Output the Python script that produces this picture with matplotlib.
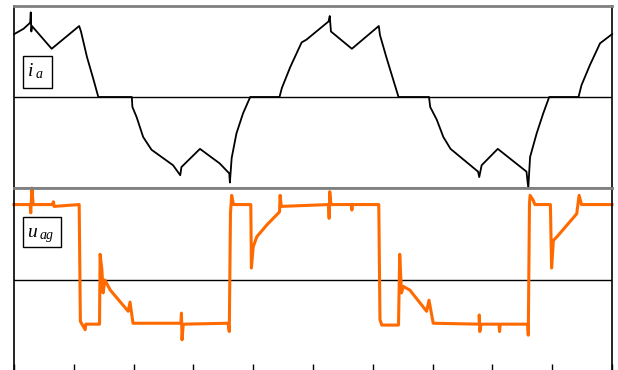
#------------------------------------------------
# Phase current i_a and phase voltage u_ag
#------------------------------------------------
import matplotlib.pyplot as plt
from matplotlib.patches import Rectangle

# time axis in divisions (10 divisions across the screen)
t_ia = [0.00, 0.16, 0.26, 0.27, 0.28, 0.29, 0.30, 0.63, 1.09, 1.12, 1.22, 1.33,
        1.41, 1.97, 1.98, 2.05, 2.16, 2.30, 2.66, 2.78, 2.80, 3.11, 3.44, 3.60,
        3.61, 3.64, 3.72, 3.83, 3.95, 4.44, 4.48, 4.62, 4.81, 4.89, 5.26, 5.28,
        5.30, 5.65, 6.10, 6.12, 6.23, 6.43, 6.94, 6.96, 7.07, 7.18, 7.30, 7.76,
        7.78, 7.82, 8.09, 8.57, 8.60, 8.63, 8.74, 8.85, 8.95, 9.44, 9.49, 9.63,
        9.80, 10.00]
ia = [0.69, 0.75, 0.81, 0.81, 0.93, 0.72, 0.78, 0.53, 0.78, 0.72, 0.44, 0.19,
      0.00, 0.00, -0.11, -0.22, -0.44, -0.58, -0.75, -0.86, -0.77, -0.57, -0.73, -0.84,
      -0.94, -0.67, -0.40, -0.18, 0.00, 0.00, 0.10, 0.33, 0.60, 0.63, 0.83, 0.89,
      0.72, 0.53, 0.78, 0.68, 0.43, 0.00, 0.00, -0.11, -0.25, -0.44, -0.57, -0.82,
      -0.88, -0.75, -0.57, -0.82, -1.00, -0.66, -0.40, -0.18, 0.00, 0.00, 0.13, 0.35,
      0.59, 0.69]

t_uag = [0.00, 0.27, 0.28, 0.30, 0.32, 0.64, 0.66, 0.67, 1.09, 1.11, 1.19, 1.20,
         1.43, 1.44, 1.47, 1.49, 1.52, 1.61, 1.91, 1.94, 1.99, 2.79, 2.80, 2.81,
         2.83, 3.58, 3.60, 3.62, 3.64, 3.67, 3.96, 3.97, 4.00, 4.06, 4.23, 4.44,
         4.45, 4.47, 5.26, 5.27, 5.28, 5.30, 5.64, 5.65, 5.66, 6.10, 6.12, 6.15,
         6.43, 6.45, 6.48, 6.51, 6.62, 6.90, 6.94, 7.01, 7.78, 7.78, 7.79, 7.81,
         8.11, 8.12, 8.13, 8.59, 8.60, 8.62, 8.63, 8.68, 8.71, 8.97, 8.99, 9.02,
         9.08, 9.41, 9.45, 9.49, 10.00]
uag = [0.82, 0.82, 0.73, 1.00, 0.82, 0.82, 0.85, 0.80, 0.82, -0.45, -0.54, -0.48,
       -0.48, 0.28, 0.11, -0.14, 0.00, -0.11, -0.34, -0.24, -0.47, -0.47, -0.36, -0.65,
       -0.48, -0.47, -0.56, 0.73, 0.92, 0.82, 0.82, 0.13, 0.36, 0.47, 0.60, 0.74,
       0.92, 0.80, 0.82, 0.67, 0.96, 0.82, 0.82, 0.76, 0.82, 0.82, -0.43, -0.49,
       -0.49, 0.28, -0.14, -0.07, -0.11, -0.34, -0.22, -0.47, -0.48, -0.38, -0.56, -0.48,
       -0.48, -0.56, -0.48, -0.48, -0.60, 0.83, 0.92, 0.87, 0.82, 0.82, 0.13, 0.43,
       0.47, 0.72, 0.92, 0.82, 0.82]

ticks = [0, 1, 2, 3, 4, 5, 6, 7, 8, 9, 10]

W, H = 618, 370
fig = plt.figure(figsize=(W / 100, H / 100), dpi=100)
ax1 = fig.add_axes([14 / W, (H - 188) / H, 598 / W, 182 / H])
ax2 = fig.add_axes([14 / W, (H - 372) / H, 598 / W, 184 / H])

for ax in (ax1, ax2):
    ax.set_xlim(0, 10)
    ax.set_ylim(-1, 1)
    ax.axhline(0, color='black', lw=1.0)
    ax.set_yticks([])
    ax.spines['left'].set_linewidth(1.2)
    ax.spines['right'].set_linewidth(1.2)
    ax.spines['top'].set_color('#808080')
    ax.spines['top'].set_linewidth(2)

ax1.spines['bottom'].set_color('#808080')
ax1.spines['bottom'].set_linewidth(2)
ax1.set_xticks([])

ax2.set_xticks(ticks)
ax2.set_xticklabels([])
ax2.tick_params(axis='x', direction='in', length=6, width=1, color='black')

ax1.plot(t_ia, ia, color='black', lw=1.3, clip_on=False)
ax2.plot(t_uag, uag, color='#ff6a00', lw=2.2, clip_on=False)


# signal labels in boxes (positions in pixels from the top left corner)
def fig_px(x, y):
    return x / W, 1 - y / H


def label_box(x, y, w, h):
    fig.add_artist(Rectangle(fig_px(x, y + h), w / W, h / H,
                             transform=fig.transFigure, facecolor='white',
                             edgecolor='black', lw=1, zorder=5))


label_box(22.7, 55.7, 29.6, 32)
label_box(22.7, 216.7, 38.6, 30.6)

serif = ['Liberation Serif', 'DejaVu Serif']
fig.text(*fig_px(28, 76.5), 'i', family=serif, style='italic', fontsize=14, zorder=6)
fig.text(*fig_px(36, 77.5), 'a', family=serif, style='italic', fontsize=10, zorder=6)
fig.text(*fig_px(27.5, 237), 'u', family=serif, style='italic', fontsize=14, zorder=6)
fig.text(*fig_px(39.5, 239), 'ag', family=serif, style='italic', fontsize=10, zorder=6)

fig.savefig('out.png', dpi=100)
